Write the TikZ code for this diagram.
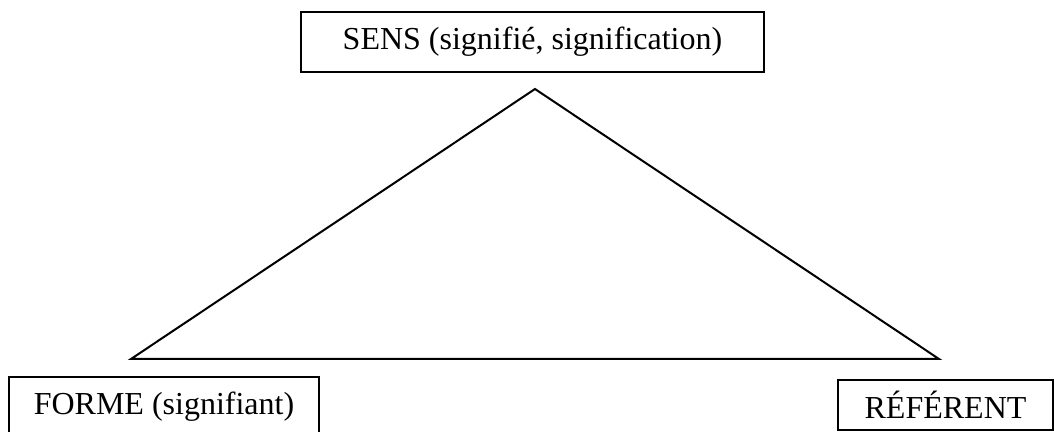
\documentclass[tikz,border=0pt]{standalone}
\usepackage{fontspec}
\setmainfont{Liberation Serif}
\usepackage{tikz}

\begin{document}
\begin{tikzpicture}[x=0.5pt, y=0.5pt,
    sbox/.style={rectangle, draw, line width=1pt, inner sep=0pt,
                 font=\fontsize{16}{19}\selectfont, anchor=center},
    tri/.style={line width=1pt, line join=miter},
  ]
    \useasboundingbox (0,0) rectangle (1054,432);
    \clip (0,0) rectangle (1054,432);

    % the three poles
    \node[sbox, minimum width=231.5pt, minimum height=30pt] (sens) at (532.5,390)
      {SENS (signifi\'e, signification)};
    \node[sbox, minimum width=155pt, minimum height=30pt] (forme) at (164,25)
      {FORME (signifiant)};
    \node[sbox, minimum width=107.5pt, minimum height=25pt] (referent) at (945.5,27)
      {R\'EF\'ERENT};

    % triangle corners
    \coordinate (apex)  at (535,343);
    \coordinate (left)  at (131,73);
    \coordinate (right) at (939,73);

    \draw[tri] (left) -- (apex) -- (right) -- cycle;
\end{tikzpicture}
\end{document}
